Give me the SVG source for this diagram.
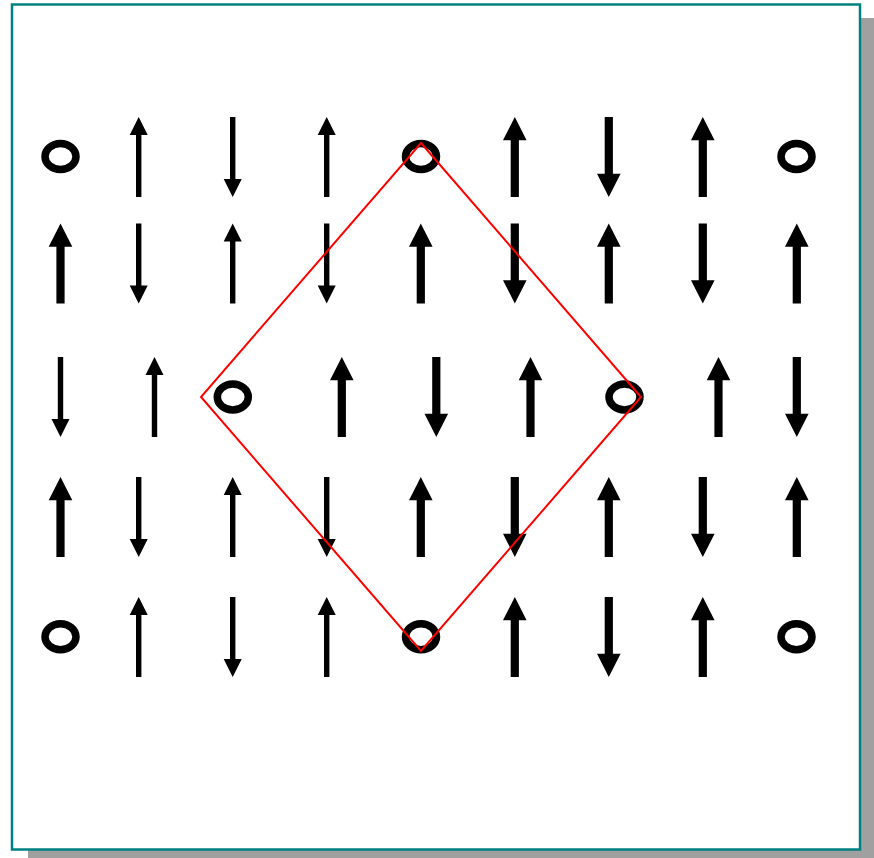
<svg xmlns="http://www.w3.org/2000/svg" xmlns:xlink="http://www.w3.org/1999/xlink" width="874" height="858" viewBox="0 0 874 858">
<style>
.ring{fill:none;stroke:#000;stroke-width:7.5}
.arr{fill:#000}
.dia{fill:none;stroke:#ff0000;stroke-width:2}
</style>
<defs>
<path id="thinUp" class="arr" d="M0,-40 L9,-22 L2.7,-22 L2.7,40 L-2.7,40 L-2.7,-22 L-9,-22 Z"/>
<path id="thickUp" class="arr" d="M0,-40 L11.8,-16.7 L4.1,-16.7 L4.1,40 L-4.1,40 L-4.1,-16.7 L-11.8,-16.7 Z"/>
<ellipse id="ring" class="ring" cx="0" cy="0" rx="15.5" ry="13"/>
</defs>
<rect x="28" y="18" width="848" height="845" fill="#a0a0a0"/>
<rect x="12" y="4.5" width="848" height="845" fill="#fff" stroke="#008080" stroke-width="2.5"/>

<g id="row1">
<g id="r1c1"><use href="#ring" x="60.5" y="156.5"/></g>
<g id="r1c2"><use href="#thinUp" transform="translate(138.7,157)"/></g>
<g id="r1c3"><use href="#thinUp" transform="translate(232.7,157) scale(1,-1)"/></g>
<g id="r1c4"><use href="#thinUp" transform="translate(326.7,157)"/></g>
<g id="r1c5"><use href="#ring" x="421" y="156.5"/></g>
<g id="r1c6"><use href="#thickUp" transform="translate(514.8,157)"/></g>
<g id="r1c7"><use href="#thickUp" transform="translate(608.8,157) scale(1,-1)"/></g>
<g id="r1c8"><use href="#thickUp" transform="translate(702.8,157)"/></g>
<g id="r1c9"><use href="#ring" x="796.5" y="156.5"/></g>
</g>

<g id="row2">
<g id="r2c1"><use href="#thickUp" transform="translate(60.5,263.5)"/></g>
<g id="r2c2"><use href="#thinUp" transform="translate(138.7,263.5) scale(1,-1)"/></g>
<g id="r2c3"><use href="#thinUp" transform="translate(232.7,263.5)"/></g>
<g id="r2c4"><use href="#thinUp" transform="translate(326.7,263.5) scale(1,-1)"/></g>
<g id="r2c5"><use href="#thickUp" transform="translate(420.8,263.5)"/></g>
<g id="r2c6"><use href="#thickUp" transform="translate(514.8,263.5) scale(1,-1)"/></g>
<g id="r2c7"><use href="#thickUp" transform="translate(608.8,263.5)"/></g>
<g id="r2c8"><use href="#thickUp" transform="translate(702.8,263.5) scale(1,-1)"/></g>
<g id="r2c9"><use href="#thickUp" transform="translate(796.8,263.5)"/></g>
</g>

<g id="row3">
<g id="r3c1"><use href="#thinUp" transform="translate(60.5,397) scale(1,-1)"/></g>
<g id="r3c2"><use href="#thinUp" transform="translate(154.5,397)"/></g>
<g id="r3c3"><use href="#ring" x="232.8" y="397"/></g>
<g id="r3c4"><use href="#thickUp" transform="translate(341.8,397)"/></g>
<g id="r3c5"><use href="#thickUp" transform="translate(436.3,397) scale(1,-1)"/></g>
<g id="r3c6"><use href="#thickUp" transform="translate(530.5,397)"/></g>
<g id="r3c7"><use href="#ring" x="624.5" y="397"/></g>
<g id="r3c8"><use href="#thickUp" transform="translate(718.5,397)"/></g>
<g id="r3c9"><use href="#thickUp" transform="translate(796.8,397) scale(1,-1)"/></g>
</g>

<g id="row4">
<g id="r4c1"><use href="#thickUp" transform="translate(60.5,517)"/></g>
<g id="r4c2"><use href="#thinUp" transform="translate(138.7,517) scale(1,-1)"/></g>
<g id="r4c3"><use href="#thinUp" transform="translate(232.7,517)"/></g>
<g id="r4c4"><use href="#thinUp" transform="translate(326.7,517) scale(1,-1)"/></g>
<g id="r4c5"><use href="#thickUp" transform="translate(420.8,517)"/></g>
<g id="r4c6"><use href="#thickUp" transform="translate(514.8,517) scale(1,-1)"/></g>
<g id="r4c7"><use href="#thickUp" transform="translate(608.8,517)"/></g>
<g id="r4c8"><use href="#thickUp" transform="translate(702.8,517) scale(1,-1)"/></g>
<g id="r4c9"><use href="#thickUp" transform="translate(796.8,517)"/></g>
</g>

<g id="row5">
<g id="r5c1"><use href="#ring" x="60.5" y="636.8"/></g>
<g id="r5c2"><use href="#thinUp" transform="translate(138.7,637)"/></g>
<g id="r5c3"><use href="#thinUp" transform="translate(232.7,637) scale(1,-1)"/></g>
<g id="r5c4"><use href="#thinUp" transform="translate(326.7,637)"/></g>
<g id="r5c5"><use href="#ring" x="421" y="636.8"/></g>
<g id="r5c6"><use href="#thickUp" transform="translate(514.8,637)"/></g>
<g id="r5c7"><use href="#thickUp" transform="translate(608.8,637) scale(1,-1)"/></g>
<g id="r5c8"><use href="#thickUp" transform="translate(702.8,637)"/></g>
<g id="r5c9"><use href="#ring" x="796.5" y="636.8"/></g>
</g>

<g id="connectors">
<path class="dia" d="M421,143 L641,397 L421,651 L201,397 Z"/>
</g>
</svg>
